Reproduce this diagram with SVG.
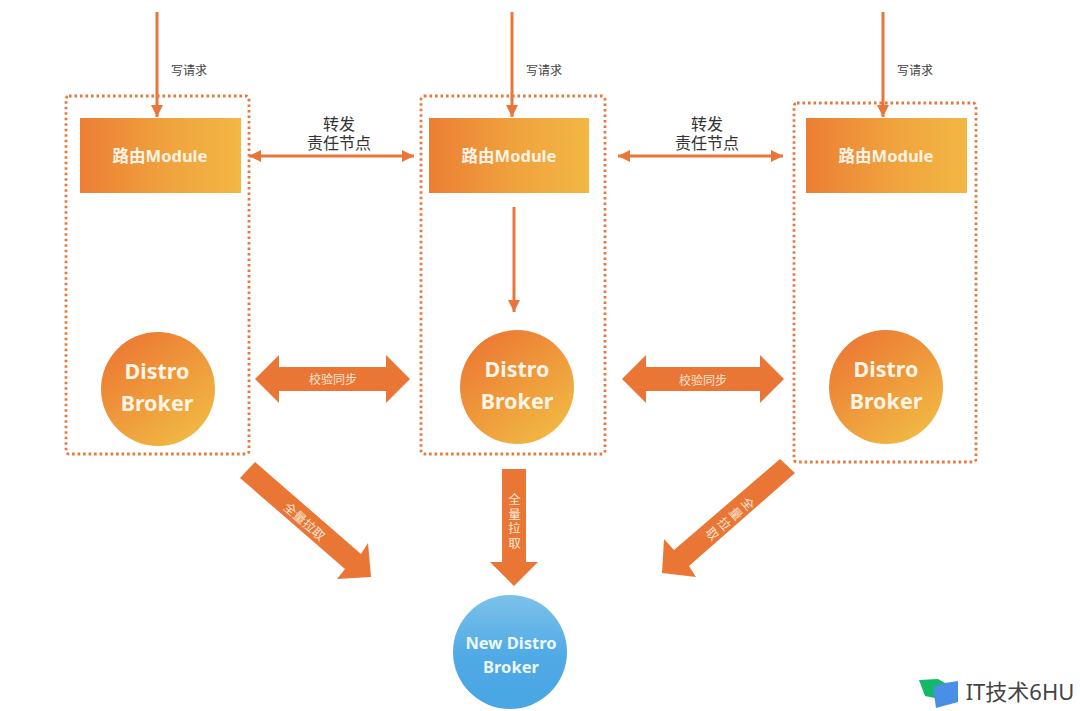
<svg xmlns="http://www.w3.org/2000/svg" width="1080" height="711" viewBox="0 0 1080 711">
<style>
text{font-family:"Noto Sans","Noto Sans CJK SC",sans-serif;text-anchor:middle}
.box{fill:none;stroke:#e5793c;stroke-width:2.8;stroke-dasharray:2.6 2.9}
.mod{fill:url(#gm)}
.modt{font-size:16.5px;font-weight:700;fill:#fdf3e4}
.dis{fill:url(#gc)}
.dist{font-size:21.5px;font-weight:700;fill:#fdf5e6}
.line{fill:none;stroke:#e8753a;stroke-width:3}
.fat{fill:#ea7636}
.lab{font-size:12px;fill:#444}
.lab2{font-size:16px;fill:#333}
.fatt{font-size:12px;fill:#fbe6d3}
.fatv{font-size:12.5px;fill:#fbe6d3}
.vert{writing-mode:vertical-rl;letter-spacing:2px}
</style>
<defs>
<linearGradient id="gm" x1="0" y1="0" x2="1" y2="0"><stop offset="0" stop-color="#ec7e34"/><stop offset="0.55" stop-color="#f0a33e"/><stop offset="1" stop-color="#f2b744"/></linearGradient>
<linearGradient id="gc" x1="0.2" y1="0.1" x2="0.8" y2="0.9"><stop offset="0" stop-color="#ec7c34"/><stop offset="1" stop-color="#f1b643"/></linearGradient>
<linearGradient id="gn" x1="0" y1="0" x2="0" y2="1"><stop offset="0" stop-color="#7cc2ea"/><stop offset="0.55" stop-color="#4ea9e5"/><stop offset="1" stop-color="#4aa6e4"/></linearGradient>
<marker id="ah" markerUnits="userSpaceOnUse" markerWidth="12" markerHeight="12" refX="10" refY="5" orient="auto-start-reverse" viewBox="0 0 10 10"><path d="M0 0L10 5L0 10Z" fill="#e8753a"/></marker>
</defs>
<rect width="1080" height="711" fill="#fff"/>
<g id="connectors">
<path class="line" d="M157 12V117" marker-end="url(#ah)"/>
<path class="line" d="M512 12V117" marker-end="url(#ah)"/>
<path class="line" d="M883 12V117" marker-end="url(#ah)"/>
<path class="line" d="M514 207V312" marker-end="url(#ah)"/>
<path class="line" d="M249 156H414" marker-start="url(#ah)" marker-end="url(#ah)"/>
<path class="line" d="M618 156H783" marker-start="url(#ah)" marker-end="url(#ah)"/>
<path class="fat" d="M255 379L279 355V367H386V355L410 379L386 403V391H279V403Z"/>
<path class="fat" d="M622 379L646 355V367H760V355L784 379L760 403V391H646V403Z"/>
<path class="fat" d="M255 462L240 478L345 569L337 579L371 577L368 543L361 554Z"/>
<path class="fat" d="M502 469H526V562H538L514 586L490 562H502Z"/>
<path class="fat" d="M780 459L795 473L689 566L696 577L662 573L664 539L674 550Z"/>
<text class="lab" x="189" y="75">写请求</text>
<text class="lab" x="544" y="75">写请求</text>
<text class="lab" x="915" y="75">写请求</text>
<text class="lab2"><tspan x="339" y="130">转发</tspan><tspan x="339" y="149">责任节点</tspan></text>
<text class="lab2"><tspan x="707" y="130">转发</tspan><tspan x="707" y="149">责任节点</tspan></text>
<text class="fatt" x="333" y="384">校验同步</text>
<text class="fatt" x="703" y="385">校验同步</text>
<text class="fatv" transform="translate(304 522) rotate(41)" y="4">全量拉取</text>
<text class="fatv vert" x="513.5" y="522">全量拉取</text>
<text class="fatv vert" style="letter-spacing:3px" transform="translate(728.5 519) rotate(50)">全量拉取</text>
</g>
<g id="node-left">
<rect class="box" x="66" y="96" width="183" height="358" rx="3"/>
<rect class="mod" x="80" y="118" width="161" height="75"/>
<text class="modt" x="160" y="162">路由Module</text>
<circle class="dis" cx="158" cy="389" r="57"/>
<text class="dist" x="157" y="379">Distro</text>
<text class="dist" x="157" y="411">Broker</text>
</g>
<g id="node-center">
<rect class="box" x="421" y="96" width="184" height="358" rx="3"/>
<rect class="mod" x="429" y="118" width="160" height="75"/>
<text class="modt" x="509" y="162">路由Module</text>
<circle class="dis" cx="517" cy="387" r="57"/>
<text class="dist" x="517" y="377">Distro</text>
<text class="dist" x="517" y="409">Broker</text>
</g>
<g id="node-right">
<rect class="box" x="794" y="103" width="182" height="359" rx="3"/>
<rect class="mod" x="806" y="118" width="161" height="75"/>
<text class="modt" x="886" y="162">路由Module</text>
<circle class="dis" cx="886" cy="387" r="57"/>
<text class="dist" x="886" y="377">Distro</text>
<text class="dist" x="886" y="409">Broker</text>
</g>
<g id="node-new">
<circle cx="510" cy="652" r="57" fill="url(#gn)"/>
<text x="511" y="649" font-size="16.5" font-weight="700" fill="#eef7fc">New Distro</text>
<text x="511" y="673" font-size="16.5" font-weight="700" fill="#eef7fc">Broker</text>
</g>
<g id="watermark">
<path d="M919 680L938 679L945 683L945 700L925 696Z" fill="#13b868"/>
<path d="M933 687L945 683L958 681V702L936 708Z" fill="#4a8fe6"/>
<text x="1020" y="700" font-size="22" fill="#444">IT技术6HU</text>
</g>
</svg>
